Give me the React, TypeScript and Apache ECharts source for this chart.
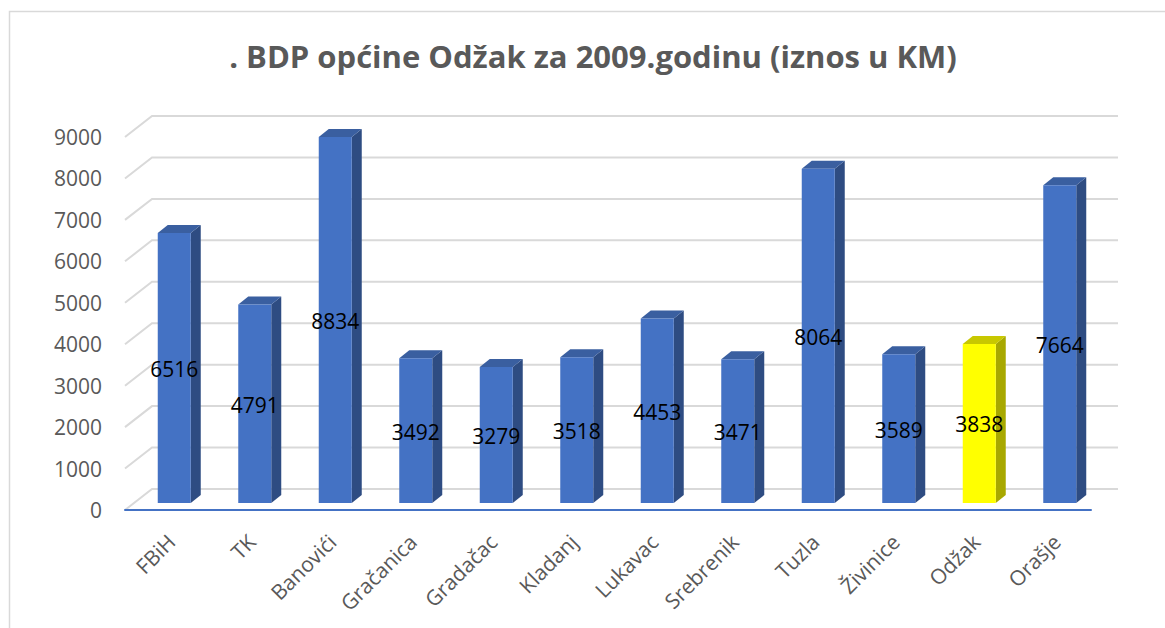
import React, { useEffect, useRef } from "react";
import * as echarts from "echarts";

const titleText = ". BDP općine Odžak za 2009.godinu (iznos u KM)";
const categories = ["FBiH", "TK", "Banovići", "Gračanica", "Gradačac", "Kladanj", "Lukavac", "Srebrenik", "Tuzla", "Živinice", "Odžak", "Orašje"];
const values = [6516, 4791, 8834, 3492, 3279, 3518, 4453, 3471, 8064, 3589, 3838, 7664];
const highlighted = "Odžak";
const yTicks = [0, 1000, 2000, 3000, 4000, 5000, 6000, 7000, 8000, 9000];

const FONT = '"Open Sans", "Noto Sans", sans-serif';

export default function App() {
  const ref = useRef<HTMLDivElement>(null);
  useEffect(() => {
    if (!ref.current) return;
    const chart = echarts.init(ref.current, undefined, { renderer: "svg" });
    const depthX = 27, depthY = 21;
    const barOffX = 9, barOffY = 7, barW = 33, sideX = 10, sideY = 8;

    const option: any = {
      animation: false,
      backgroundColor: "#ffffff",
      graphic: [
        {
          type: "rect",
          shape: { x: 9.5, y: 11.5, width: 1300, height: 800 },
          style: { fill: "none", stroke: "#d9d9d9", lineWidth: 1.5 },
          silent: true,
        },
        {
          type: "text",
          x: 593,
          y: 56,
          style: {
            text: titleText,
            align: "center",
            verticalAlign: "middle",
            fontFamily: FONT,
            fontWeight: "bold",
            fontSize: 31,
            fill: "#595959",
          },
        },
      ],
      grid: [
        { left: 125, right: 74, top: 137, bottom: 118 },
        { left: 131, right: 68, top: 137, bottom: 118 },
      ],
      xAxis: [
        {
          type: "category",
          gridIndex: 0,
          data: categories,
          boundaryGap: true,
          axisLine: { show: true, lineStyle: { color: "#4472C4", width: 2 } },
          axisTick: { show: false },
          axisLabel: { show: false },
          splitLine: { show: false },
          z: 5,
        },
        {
          type: "category",
          gridIndex: 1,
          data: categories,
          boundaryGap: true,
          axisLine: { show: false },
          axisTick: { show: false },
          axisLabel: {
            rotate: 45,
            color: "#595959",
            fontFamily: FONT,
            fontSize: 21,
            margin: 28,
            interval: 0,
          },
          splitLine: { show: false },
        },
      ],
      yAxis: [
        {
          type: "value",
          gridIndex: 0,
          min: 0,
          max: 9000,
          interval: 1000,
          axisLine: { show: false },
          axisTick: { show: false },
          splitLine: { show: false },
          axisLabel: {
            color: "#595959",
            fontFamily: FONT,
            fontSize: 21,
            margin: 23,
            padding: [5, 0, 0, 0],
            formatter: (v: number) => String(v),
          },
        },
        {
          type: "value",
          gridIndex: 1,
          min: 0,
          max: 9000,
          interval: 1000,
          show: false,
        },
      ],
      series: [
        {
          type: "custom",
          name: "grid",
          silent: true,
          clip: false,
          z: 1,
          xAxisIndex: 0,
          yAxisIndex: 0,
          data: yTicks.map((v) => [0, v]),
          encode: { x: 0, y: 1 },
          renderItem: (params: any, api: any) => {
            const cs = params.coordSys;
            const v = api.value(1);
            const y = api.coord([0, v])[1];
            const x0 = cs.x;
            return {
              type: "polyline",
              shape: {
                points: [
                  [x0, y],
                  [x0 + depthX, y - depthY],
                  [x0 + cs.width + depthX, y - depthY],
                ],
              },
              style: { stroke: "#d9d9d9", lineWidth: 2, fill: "none" },
            };
          },
        },
        {
          type: "custom",
          name: "BDP",
          clip: false,
          z: 3,
          xAxisIndex: 0,
          yAxisIndex: 0,
          data: values.map((v, i) => [i, v]),
          encode: { x: 0, y: 1 },
          renderItem: (params: any, api: any) => {
            const i = api.value(0);
            const v = api.value(1);
            const base = api.coord([i, 0]);
            const top = api.coord([i, v]);
            const cx = base[0] + barOffX;
            const yB = base[1] - barOffY;
            const yT = top[1] - barOffY;
            const x0 = cx - barW / 2;
            const x1 = cx + barW / 2;
            const hl = categories[i] === highlighted;
            const front = hl ? "#FFFF00" : "#4472C4";
            const side = hl ? "#A8A800" : "#2E4C82";
            const topC = hl ? "#C8C800" : "#3A5FA0";
            return {
              type: "group",
              children: [
                {
                  type: "polygon",
                  shape: { points: [[x1, yT], [x1 + sideX, yT - sideY], [x1 + sideX, yB - sideY], [x1, yB]] },
                  style: { fill: side },
                },
                {
                  type: "polygon",
                  shape: { points: [[x0, yT], [x0 + sideX, yT - sideY], [x1 + sideX, yT - sideY], [x1, yT]] },
                  style: { fill: topC },
                },
                {
                  type: "rect",
                  shape: { x: x0, y: yT, width: barW, height: yB - yT },
                  style: { fill: front },
                },
                {
                  type: "text",
                  x: cx,
                  y: (yT + yB) / 2 + 1,
                  style: {
                    text: String(v),
                    align: "center",
                    verticalAlign: "middle",
                    fontFamily: FONT,
                    fontSize: 21,
                    fill: "#000000",
                  },
                  z2: 10,
                },
              ],
            };
          },
        },
      ],
    };
    chart.setOption(option);
    return () => chart.dispose();
  }, []);
  return <div ref={ref} style={{ position: "absolute", left: 0, top: 0, width: 1165, height: 628 }} />;
}
